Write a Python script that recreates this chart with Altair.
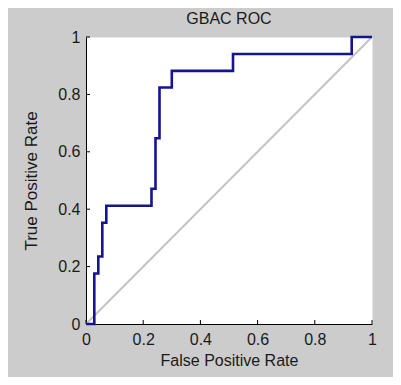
import altair as alt
import pandas as pd

# ROC curve corner points, step-after interpolation
fpr = [0.0, 0.029, 0.043, 0.057, 0.071, 0.229, 0.243, 0.257, 0.300, 0.514, 0.929, 1.0]
tpr = [0.0, 0.176, 0.235, 0.353, 0.412, 0.471, 0.647, 0.824, 0.882, 0.941, 1.0, 1.0]
diag_x = [0.0, 1.0]
diag_y = [0.0, 1.0]
tick_vals = [0.0, 0.2, 0.4, 0.6, 0.8, 1.0]

W, H = 286, 287
FONT = "Liberation Sans"

roc = pd.DataFrame({"fpr": fpr, "tpr": tpr})
diag = pd.DataFrame({"x": diag_x, "y": diag_y})
ticks = pd.DataFrame({"v": tick_vals})

xscale = alt.Scale(domain=[0, 1], nice=False)
yscale = alt.Scale(domain=[0, 1], nice=False)

xaxis = alt.Axis(values=tick_vals, format="~g", ticks=False, grid=False,
                 domainColor="black", labelPadding=7, titlePadding=5,
                 labelFontSize=16, titleFontSize=16, labelFont=FONT, titleFont=FONT,
                 labelColor="#1a1a1a", titleColor="#1a1a1a", titleFontWeight="normal",
                 labelFlush=False)
yaxis = alt.Axis(values=tick_vals, format="~g", ticks=False, grid=False,
                 domainColor="black", labelPadding=6, titlePadding=17,
                 labelFontSize=16, titleFontSize=17, labelFont=FONT, titleFont=FONT,
                 labelColor="#1a1a1a", titleColor="#1a1a1a", titleFontWeight="normal",
                 labelFlush=False)

diag_line = alt.Chart(diag).mark_line(color="#c4c4c4", strokeWidth=2, clip=False).encode(
    x=alt.X("x:Q", scale=xscale, axis=xaxis, title="False Positive Rate"),
    y=alt.Y("y:Q", scale=yscale, axis=yaxis, title="True Positive Rate"),
)

roc_line = alt.Chart(roc).mark_line(color="#15158e", strokeWidth=2.6,
                                    interpolate="step-after", clip=False).encode(
    x=alt.X("fpr:Q", scale=xscale),
    y=alt.Y("tpr:Q", scale=yscale),
)

xticks = alt.Chart(ticks).mark_rule(color="black", strokeWidth=1).encode(
    x=alt.X("v:Q", scale=xscale),
    y=alt.value(H),
    y2=alt.value(H - 4),
)
yticks = alt.Chart(ticks).mark_rule(color="black", strokeWidth=1).encode(
    y=alt.Y("v:Q", scale=yscale),
    x=alt.value(0),
    x2=alt.value(4),
)

chart = alt.layer(diag_line, xticks, yticks, roc_line).properties(
    width=W,
    height=H,
    title=alt.TitleParams("GBAC ROC", font=FONT, fontSize=16, fontWeight="normal",
                          color="#1a1a1a", anchor="middle", offset=2),
    autosize=alt.AutoSizeParams(type="none"),
    padding={"left": 78, "top": 29, "right": 21, "bottom": 53},
    background="#cccccc",
).configure_view(stroke="transparent", fill="white")

chart.save("out.html", embed_options={"renderer": "svg", "actions": False})
